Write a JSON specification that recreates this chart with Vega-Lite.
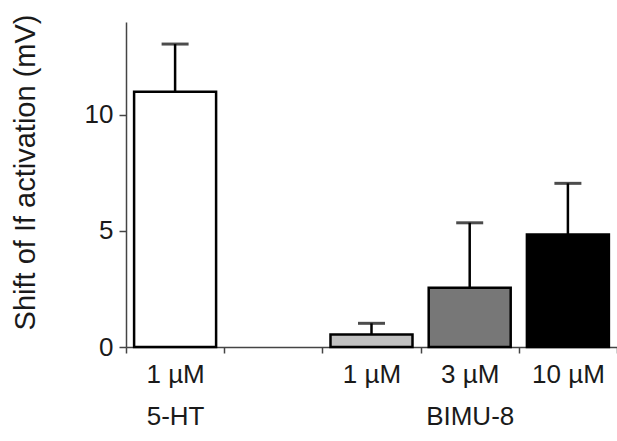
{
  "$schema": "https://vega.github.io/schema/vega-lite/v6.json",
  "width": 491,
  "height": 325,
  "autosize": {"type": "none"},
  "padding": {"left": 126, "top": 22, "right": 0, "bottom": 94},
  "background": "white",
  "config": {"view": {"stroke": null}, "font": "Liberation Sans"},
  "data": {"values": [
    {"cat": "1 µM|5-HT", "value": 11.0, "err": 13.05},
    {"cat": "1 µM", "value": 0.54, "err": 1.02},
    {"cat": "3 µM|BIMU-8", "value": 2.55, "err": 5.35},
    {"cat": "10 µM", "value": 4.85, "err": 7.05}
  ]},
  "encoding": {
    "x": {
      "field": "cat", "type": "nominal", "sort": null,
      "scale": {"domain": ["1 µM|5-HT", " ", "1 µM", "3 µM|BIMU-8", "10 µM"], "paddingInner": 0, "paddingOuter": 0},
      "axis": {
        "title": null, "orient": "bottom", "tickBand": "extent", "tickSize": 6, "tickWidth": 1.5,
        "tickColor": "#444", "domainColor": "#444", "domainWidth": 1.5, "labelAngle": 0,
        "labelFontSize": 26, "labelColor": "#1a1a1a", "labelLineHeight": 42, "labelPadding": 8,
        "labelExpr": "split(datum.label, '|')"
      }
    }
  },
  "layer": [
    {
      "mark": {"type": "rule", "strokeWidth": 2.5, "color": "black"},
      "encoding": {
        "y": {"field": "value", "type": "quantitative"},
        "y2": {"field": "err"}
      }
    },
    {
      "mark": {"type": "bar", "width": {"band": 0.835}, "stroke": "black", "strokeWidth": 2.5},
      "encoding": {
        "y": {
          "field": "value", "type": "quantitative",
          "scale": {"domain": [0, 14], "nice": false},
          "axis": {
            "title": "Shift of If activation (mV)", "values": [0, 5, 10], "grid": false,
            "domainColor": "#444", "domainWidth": 1.5, "tickColor": "#444", "tickWidth": 1.5, "tickSize": 7,
            "labelFontSize": 26, "labelColor": "#1a1a1a", "labelPadding": 6,
            "titleFontSize": 29, "titleFontWeight": "normal", "titleColor": "#1a1a1a",
            "titleAngle": -90, "titleX": -101, "titleY": 150, "titleAlign": "center", "titleBaseline": "middle"
          }
        },
        "fill": {
          "field": "cat", "type": "nominal", "legend": null,
          "scale": {"domain": ["1 µM|5-HT", "1 µM", "3 µM|BIMU-8", "10 µM"], "range": ["#ffffff", "#c0c0c0", "#777777", "#000000"]}
        }
      }
    },
    {
      "mark": {"type": "tick", "size": 27, "thickness": 3, "color": "black"},
      "encoding": {"y": {"field": "err", "type": "quantitative"}}
    }
  ]
}
